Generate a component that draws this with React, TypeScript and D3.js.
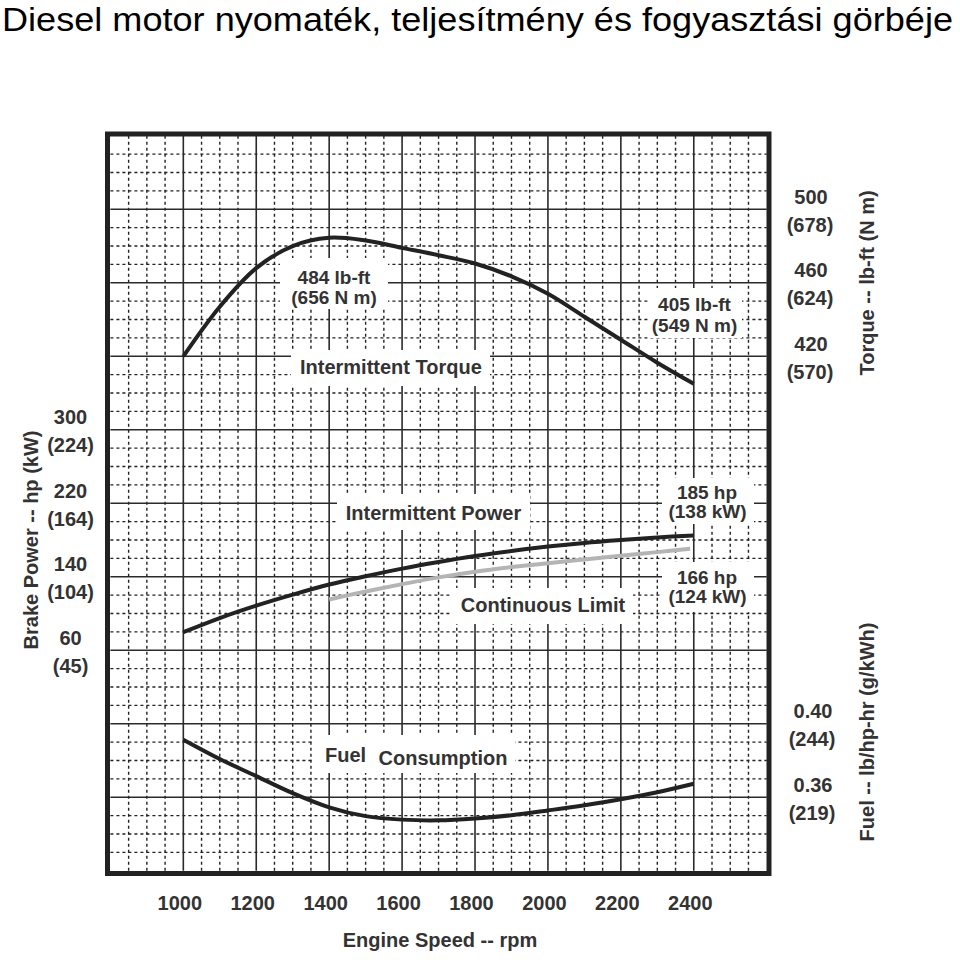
import React from "react";
import * as d3 from "d3";

const TITLE = "Diesel motor nyomaték, teljesítmény és fogyasztási görbéje";

const rpmTicks = [1000, 1200, 1400, 1600, 1800, 2000, 2200, 2400];

const torqueRpm = [1000, 1100, 1200, 1300, 1400, 1500, 1600, 1700, 1800, 1900, 2000, 2100, 2200, 2300, 2400];
const torqueLbFt = [420, 447, 468, 480, 484.5, 483, 479, 475, 470.5, 463.5, 454, 441.5, 429, 416.5, 405];

const powerRpm = [1000, 1100, 1200, 1300, 1400, 1500, 1600, 1700, 1800, 1900, 2000, 2100, 2200, 2300, 2400];
const powerHp = [79.6, 95, 108.5, 120.5, 131.5, 140.5, 148.8, 156, 162.5, 168, 172.8, 176.8, 180, 182.8, 185];

const contRpm = [1400, 1500, 1600, 1700, 1800, 1900, 2000, 2100, 2200, 2300, 2390];
const contHp = [115.3, 124, 132, 139.3, 145.5, 150.5, 154.8, 158.8, 162.8, 166.8, 170.5];

const fuelRpm = [1000, 1100, 1200, 1300, 1400, 1500, 1600, 1700, 1800, 1900, 2000, 2100, 2200, 2300, 2400];
const fuelLbHpHr = [0.3913, 0.3808, 0.3715, 0.3622, 0.3545, 0.3497, 0.3478, 0.3474, 0.3484, 0.3502, 0.3528, 0.3556, 0.3589, 0.3627, 0.3673];

const powerTicksHp = [300, 220, 140, 60];
const powerTicksKw = [224, 164, 104, 45];
const torqueTicksLbFt = [500, 460, 420];
const torqueTicksNm = [678, 624, 570];
const fuelTicks = ["0.40", "0.36"];
const fuelTicksG = [244, 219];

const FONT = "'Liberation Sans', Arial, Helvetica, sans-serif";
const INK = "#333";

export default function App() {
  const x = d3.scaleLinear().domain([800, 2600]).range([110.4, 766.7]);
  const yTop = 135.8;
  const yBot = 870.7;
  const yUnit = d3.scaleLinear().domain([0, 10]).range([yTop, yBot]);
  const yTorque = d3.scaleLinear().domain([540, 140]).range([yTop, yBot]);
  const yPower = d3.scaleLinear().domain([620, -180]).range([yTop, yBot]);
  const yFuel = d3.scaleLinear().domain([0.72, 0.32]).range([yTop, yBot]);

  const majorX = d3.range(1000, 2600, 200);
  const minorX = d3.range(800, 2600, 50).filter((v) => v % 200 !== 0);
  const majorY = d3.range(1, 10);
  const minorY = d3.range(0, 10, 0.25).filter((v) => v % 1 !== 0);

  const mk = (xs: number[], ys: number[], ys2: (v: number) => number) =>
    d3
      .line<number>()
      .x((_, i) => x(xs[i]))
      .y((d) => ys2(d))
      .curve(d3.curveCatmullRom.alpha(0.5))(ys) || "";

  const torquePath = mk(torqueRpm, torqueLbFt, yTorque);
  const powerPath = mk(powerRpm, powerHp, yPower);
  const contPath = mk(contRpm, contHp, yPower);
  const fuelPath = mk(fuelRpm, fuelLbHpHr, yFuel);

  const boxes = [
    [280, 258, 388, 309],
    [291, 350, 490, 386],
    [648, 288, 742, 338],
    [337, 494, 530, 530],
    [662, 478, 754, 524],
    [452, 588, 633, 624],
    [662, 562, 754, 612],
    [313, 735, 515, 773],
  ];

  const lbl = { fontFamily: FONT, fontWeight: 700, fontSize: 20, fill: INK } as const;
  const lblPair = { fontFamily: FONT, fontWeight: 700, fontSize: 19, fill: INK } as const;

  return (
    <svg
      width={960}
      height={960}
      style={{ position: "absolute", left: 0, top: 0, background: "#fff" }}
    >
      <rect x={0} y={0} width={960} height={960} fill="#fff" />
      <text
        x={2}
        y={31}
        fontFamily={FONT}
        fontSize={34}
        fill="#000"
        textLength={951}
        lengthAdjust="spacingAndGlyphs"
      >
        {TITLE}
      </text>

      {/* minor grid */}
      <g stroke="#222" strokeWidth={1.4} strokeDasharray="3,3">
        {minorX.map((v) => (
          <line key={"mx" + v} x1={x(v)} x2={x(v)} y1={yTop} y2={yBot} />
        ))}
        {minorY.map((v) => (
          <line key={"my" + v} x1={x(800)} x2={x(2600)} y1={yUnit(v)} y2={yUnit(v)} />
        ))}
      </g>
      {/* major grid */}
      <g stroke="#2a2a2a" strokeWidth={1.6}>
        {majorX.map((v) => (
          <line key={"Mx" + v} x1={x(v)} x2={x(v)} y1={yTop} y2={yBot} />
        ))}
        {majorY.map((v) => (
          <line key={"My" + v} x1={x(800)} x2={x(2600)} y1={yUnit(v)} y2={yUnit(v)} />
        ))}
      </g>

      {/* label backgrounds */}
      {boxes.map((b, i) => (
        <rect key={"b" + i} x={b[0]} y={b[1]} width={b[2] - b[0]} height={b[3] - b[1]} fill="#fff" />
      ))}

      {/* frame */}
      <rect x={107.5} y={134} width={661.5} height={739.5} fill="none" stroke="#222" strokeWidth={5} />

      {/* curves */}
      <path d={contPath} fill="none" stroke="#b4b4b4" strokeWidth={4} />
      <path d={torquePath} fill="none" stroke="#222" strokeWidth={4} />
      <path d={powerPath} fill="none" stroke="#222" strokeWidth={4} />
      <path d={fuelPath} fill="none" stroke="#222" strokeWidth={4} />

      {/* in-plot labels */}
      <g {...lblPair} textAnchor="middle">
        <text x={334} y={283.5}>484 lb-ft</text>
        <text x={334} y={304}>(656 N m)</text>
        <text x={694.5} y={311}>405 lb-ft</text>
        <text x={694.5} y={331.5}>(549 N m)</text>
        <text x={707} y={498.5}>185 hp</text>
        <text x={707.5} y={518}>(138 kW)</text>
        <text x={707} y={583.5}>166 hp</text>
        <text x={707.5} y={603}>(124 kW)</text>
      </g>
      <g {...lbl} textAnchor="middle">
        <text x={433.5} y={519.5}>Intermittent Power</text>
        <text x={543} y={611.5}>Continuous Limit</text>
      </g>
      <g {...lbl}>
        <text x={300} y={373.5}>Intermittent Torque</text>
        <text x={325} y={762}>Fuel</text>
        <text x={378.5} y={765}>Consumption</text>
      </g>

      {/* x axis */}
      <g {...lbl} textAnchor="middle">
        {rpmTicks.map((v) => (
          <text key={"xt" + v} x={x(v) - 3.5} y={910}>
            {v}
          </text>
        ))}
        <text x={440} y={947}>Engine Speed -- rpm</text>
      </g>

      {/* left power axis */}
      <g {...lbl} textAnchor="middle">
        {powerTicksHp.map((v, i) => (
          <g key={"pt" + v}>
            <text x={70.5} y={yPower(v) - 5.5}>{v}</text>
            <text x={70.5} y={yPower(v) + 22.5}>({powerTicksKw[i]})</text>
          </g>
        ))}
        <text transform="translate(38,540) rotate(-90)">Brake Power -- hp (kW)</text>
      </g>

      {/* right torque axis */}
      <g {...lbl} textAnchor="middle">
        {torqueTicksLbFt.map((v, i) => (
          <g key={"tt" + v}>
            <text x={811} y={yTorque(v) - 5.5}>{v}</text>
            <text x={810} y={yTorque(v) + 22.5}>({torqueTicksNm[i]})</text>
          </g>
        ))}
        <text transform="translate(874,283) rotate(-90)">Torque -- lb-ft (N m)</text>
      </g>

      {/* right fuel axis */}
      <g {...lbl} textAnchor="middle">
        {fuelTicks.map((v, i) => (
          <g key={"ft" + v}>
            <text x={813} y={yFuel(parseFloat(v)) - 5.5}>{v}</text>
            <text x={812} y={yFuel(parseFloat(v)) + 22.5}>({fuelTicksG[i]})</text>
          </g>
        ))}
        <text transform="translate(874,732) rotate(-90)">Fuel -- lb/hp-hr (g/kWh)</text>
      </g>
    </svg>
  );
}
